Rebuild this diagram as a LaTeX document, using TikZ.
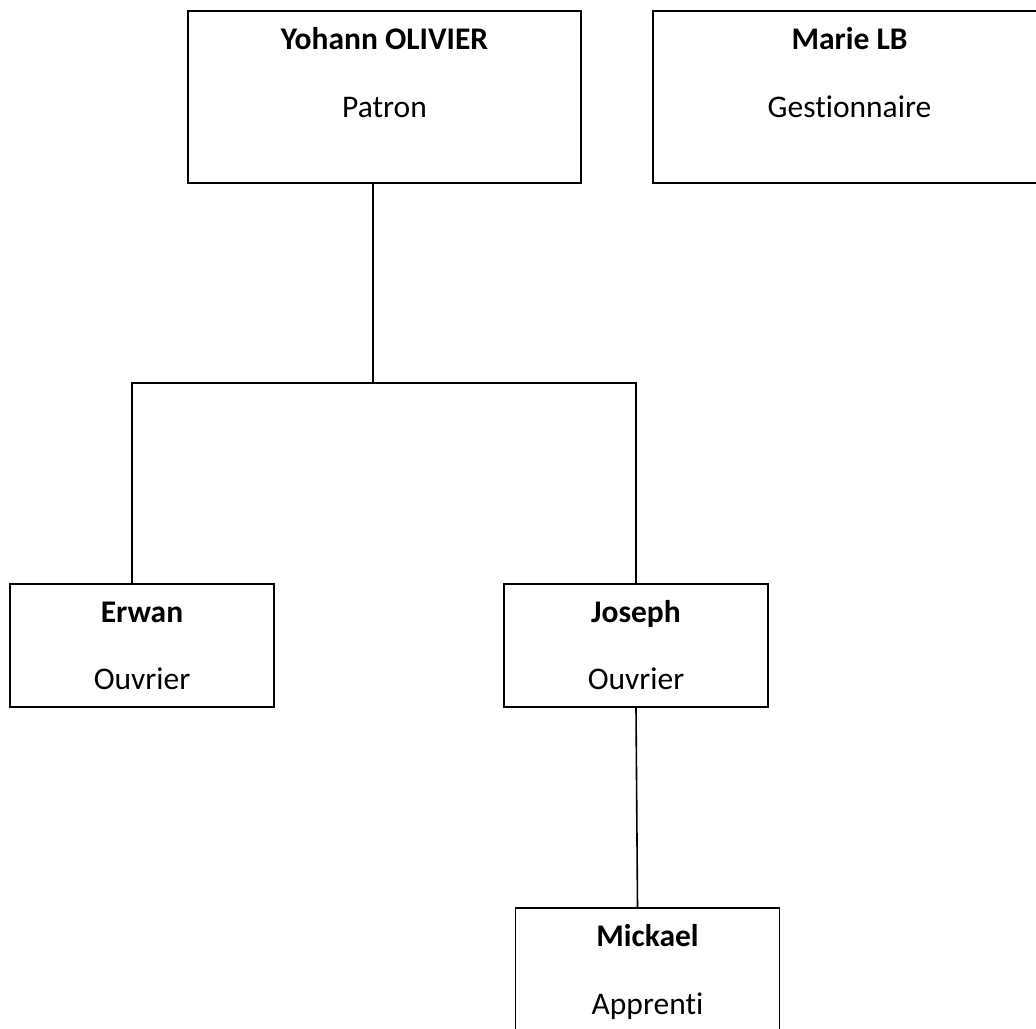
\documentclass[tikz,border=0pt]{standalone}
\usepackage{fontspec}
\setmainfont{Carlito}[Ligatures=NoCommon]
\usepackage{tikz}

\begin{document}
\begin{tikzpicture}[x=1pt, y=-1pt,
    boite/.style={draw, line width=1.6pt, inner sep=0pt},
    haute/.style={boite, minimum width=393pt, minimum height=172pt},
    basse/.style={boite, minimum width=264pt, minimum height=123pt},
    nom/.style={anchor=base, inner sep=0pt, font=\fontsize{31.5}{36}\selectfont\bfseries},
    role/.style={anchor=base, inner sep=0pt, font=\fontsize{31.5}{36}\selectfont},
    lien/.style={line width=1.6pt}]
  \useasboundingbox (0, 0) rectangle (1036, 1028);
  \clip (0, 0) rectangle (1036, 1028);
          \node[haute] (YO) at (384.5, 97) {};
          \node[haute] (ML) at (849.5, 97) {};
          \node[basse] (ER) at (142, 645.5) {};
          \node[basse] (JO) at (636, 645.5) {};
          \node[basse] (MI) at (647.5, 969.5) {};
          \node[nom] (YOn) at ([yshift=-39pt]YO.north) {Yohann OLIVIER};
          \node[role] (YOr) at ([yshift=-107pt]YO.north) {Patron};
          \node[nom] (MLn) at ([yshift=-39pt]ML.north) {Marie LB};
          \node[role] (MLr) at ([yshift=-107pt]ML.north) {Gestionnaire};
          \node[nom] (ERn) at ([yshift=-39pt]ER.north) {Erwan};
          \node[role] (ERr) at ([yshift=-106pt]ER.north) {Ouvrier};
          \node[nom] (JOn) at ([yshift=-39pt]JO.north) {Joseph};
          \node[role] (JOr) at ([yshift=-106pt]JO.north) {Ouvrier};
          \node[nom] (MIn) at ([yshift=-39pt]MI.north) {Mickael};
          \node[role] (MIr) at ([yshift=-107pt]MI.north) {Apprenti};
          \coordinate (hub) at (373, 383);
          \draw[lien] ([xshift=-11.5pt]YO.south) -- (hub);
          \draw[lien] ([xshift=-10pt]ER.north) |- (hub) -| (JO.north);
          \draw[lien] (JO.south) -- ([xshift=-10pt]MI.north);
\end{tikzpicture}
\end{document}
